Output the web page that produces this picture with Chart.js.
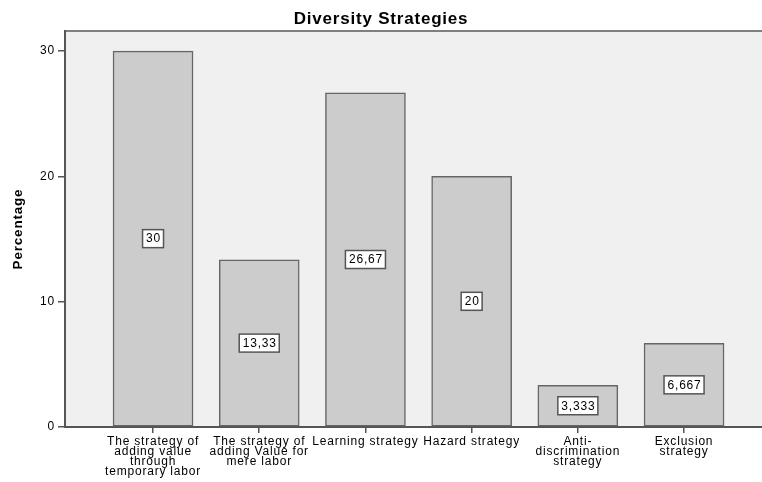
<!DOCTYPE html>
<html>
<head>
<meta charset="utf-8">
<script src="https://cdn.jsdelivr.net/npm/chart.js@4.4.1/dist/chart.umd.min.js"></script>
<style>
html,body{margin:0;padding:0;background:#fff;}
#wrap{width:762px;height:482px;}
</style>
</head>
<body>
<div id="wrap"><canvas id="c" width="762" height="482"></canvas></div>
<script>
const categories = [
  ["The strategy of", "adding value", "through", "temporary labor"],
  ["The strategy of", "adding Value for", "mere labor"],
  ["Learning strategy"],
  ["Hazard strategy"],
  ["Anti-", "discrimination", "strategy"],
  ["Exclusion", "strategy"]
];
const percentages = [30, 13.33, 26.67, 20, 3.333, 6.667];
const valueLabels = ["30", "13,33", "26,67", "20", "3,333", "6,667"];
const yTicks = [0, 10, 20, 30];

const FONT = "'Liberation Sans', Arial, sans-serif";

const bgPlugin = {
  id: 'bg',
  beforeDraw(chart) {
    const ctx = chart.ctx;
    ctx.letterSpacing = '0.8px';
    const a = chart.chartArea;
    ctx.save();
    ctx.fillStyle = '#ffffff';
    ctx.fillRect(0, 0, chart.width, chart.height);
    ctx.fillStyle = '#f0f0f0';
    ctx.fillRect(a.left, a.top, a.right - a.left, a.bottom - a.top);
    ctx.strokeStyle = '#808080';
    ctx.lineWidth = 2;
    ctx.beginPath();
    ctx.moveTo(a.left, a.top);
    ctx.lineTo(a.right, a.top);
    ctx.stroke();
    ctx.restore();
  }
};

const labelPlugin = {
  id: 'vlabels',
  afterDatasetsDraw(chart) {
    const ctx = chart.ctx;
    const meta = chart.getDatasetMeta(0);
    ctx.save();
    ctx.font = "12px " + FONT;
    ctx.textAlign = 'center';
    ctx.textBaseline = 'middle';
    meta.data.forEach((el, i) => {
      const txt = valueLabels[i];
      const cx = el.x;
      const cy = (el.y + el.base) / 2;
      const w = ctx.measureText(txt).width + 6;
      const h = 18;
      ctx.fillStyle = '#ffffff';
      ctx.fillRect(cx - w / 2, cy - h / 2, w, h);
      ctx.strokeStyle = '#555555';
      ctx.lineWidth = 1.5;
      ctx.strokeRect(cx - w / 2, cy - h / 2, w, h);
      ctx.fillStyle = '#000000';
      ctx.fillText(txt, cx + 0.5, cy + 0.5);
    });
    ctx.restore();
  }
};

new Chart(document.getElementById('c'), {
  type: 'bar',
  data: {
    datasets: [{
      data: percentages.map((v, i) => ({x: i, y: v})),
      backgroundColor: '#cccccc',
      borderColor: '#666666',
      borderWidth: 1.5,
      borderSkipped: false,
      barThickness: 80
    }]
  },
  options: {
    responsive: false,
    animation: false,
    devicePixelRatio: 1,
    layout: {padding: 0},
    plugins: {
      legend: {display: false},
      tooltip: {enabled: false},
      title: {
        display: true,
        text: 'Diversity Strategies',
        color: '#000000',
        font: {family: FONT, size: 17, weight: 'bold'},
        padding: {top: 9, bottom: 1.6}
      }
    },
    scales: {
      x: {
        type: 'linear',
        offset: false,
        min: -0.829,
        max: 5.734,
        afterBuildTicks(scale) {
          scale.ticks = categories.map((c, i) => ({value: i}));
        },
        afterFit(scale) { scale.height = 55; },
        grid: {display: true, offset: false, drawOnChartArea: false, drawTicks: true, tickLength: 6, color: '#555555', lineWidth: 1.5},
        border: {display: true, color: '#555555', width: 2},
        ticks: {
          autoSkip: false,
          maxRotation: 0,
          minRotation: 0,
          padding: 4,
          color: '#000000',
          font: {family: FONT, size: 12, lineHeight: '10px'},
          callback: (v) => categories[v] || ''
        }
      },
      y: {
        min: 0,
        max: 31.6,
        afterBuildTicks(scale) {
          scale.ticks = yTicks.map(v => ({value: v}));
        },
        afterFit(scale) { scale.width = 65; },
        grid: {display: true, drawOnChartArea: false, drawTicks: true, tickLength: 7, color: '#555555', lineWidth: 1.5},
        border: {display: true, color: '#555555', width: 2},
        ticks: {
          padding: 3,
          color: '#000000',
          font: {family: FONT, size: 12},
          callback: (v) => String(v)
        },
        title: {
          display: true,
          text: 'Percentage',
          color: '#000000',
          font: {family: FONT, size: 13.5, weight: 'bold'},
          padding: {top: 10, bottom: 0}
        }
      }
    }
  },
  plugins: [bgPlugin, labelPlugin]
});
</script>
</body>
</html>
